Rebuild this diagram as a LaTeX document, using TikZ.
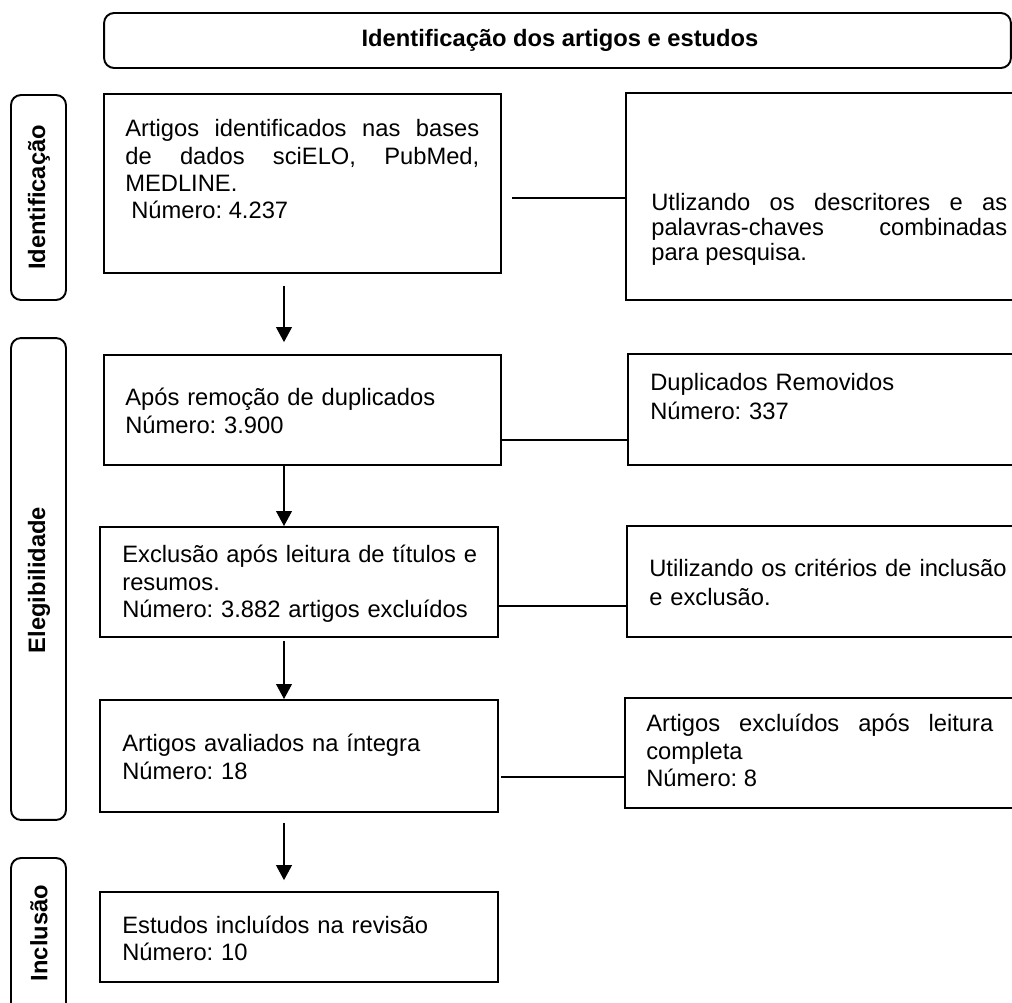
\documentclass[tikz,border=0pt]{standalone}
\usepackage{fontspec}
\setmainfont{Liberation Sans}
\usetikzlibrary{arrows.meta}
\frenchspacing

\begin{document}
\begin{tikzpicture}[x=0.02cm,y=-0.02cm,
	caixa/.style={draw,rectangle,line width=1.1pt,inner sep=0pt},
	fase/.style={draw,rectangle,rounded corners=0.2cm,line width=1.1pt,inner sep=0pt,minimum width=1.1cm},
	texto/.style={anchor=base west,inner sep=0pt,font=\fontsize{13.5}{15.5}\selectfont},
	rotulo/.style={rotate=90,inner sep=0pt,font=\bfseries\fontsize{13.5}{15}\selectfont},
	seta/.style={-{Triangle[width=9pt,length=8.5pt]},line width=0.6pt},
	linha/.style={line width=0.6pt}]
	\useasboundingbox (0,0) rectangle (1012,1003);

	% titulo e fases
	\node [fase,minimum width=18.14cm,minimum height=1.1cm] (titulo) at (557.5,40.5) {};
	\node [inner sep=0pt,font=\bfseries\fontsize{13.5}{15}\selectfont] (tituloTxt) at (560,40.5) {Identificação dos artigos e estudos};
	\node [fase,minimum height=4.1cm] (fase1) at (38.5,197.5) {};
	\node [fase,minimum height=9.64cm] (fase2) at (38.5,579) {};
	\node [fase,minimum height=3.64cm] (fase3) at (38.5,949) {};
	\node [rotulo] (rot1) at (39,197.5) {Identificação};
	\node [rotulo] (rot2) at (39,580) {Elegibilidade};
	\node [rotulo] (rot3) at (39,933) {Inclusão};

	% caixas principais
	\node [caixa,minimum width=7.94cm,minimum height=3.58cm] (ident) at (302.5,183.5) {};
	\node [caixa,minimum width=7.94cm,minimum height=2.2cm] (remocao) at (302.5,410) {};
	\node [caixa,minimum width=7.96cm,minimum height=2.2cm] (titulos) at (299,582) {};
	\node [caixa,minimum width=7.96cm,minimum height=2.24cm] (integra) at (299,756) {};
	\node [caixa,minimum width=7.96cm,minimum height=1.8cm] (incluidos) at (299,937) {};

	% caixas laterais
	\node [caixa,minimum width=8.08cm,minimum height=4.14cm] (descritores) at (828,196.5) {};
	\node [caixa,minimum width=8.04cm,minimum height=2.22cm] (duplicados) at (829,409.5) {};
	\node [caixa,minimum width=8.06cm,minimum height=2.22cm] (criterios) at (828.5,581.5) {};
	\node [caixa,minimum width=8.1cm,minimum height=2.2cm] (excluidos) at (827.5,753) {};

	% textos
	\node [texto,text width=7.08cm,align=justify] (identTxt) at (125,137) {Artigos identificados nas bases\linebreak de dados sciELO, PubMed,\linebreak MEDLINE.\\ \hspace*{0.25em}Número: 4.237};
	\node [texto,text width=7.5cm,align=left] (remocaoTxt) at (125,406) {Após remoção de duplicados\\Número: 3.900};
	\node [texto,text width=7.5cm,align=left] (titulosTxt) at (122,563) {Exclusão após leitura de títulos e\\resumos.\\Número: 3.882 artigos excluídos};
	\node [texto,text width=7.5cm,align=left] (integraTxt) at (122,752) {Artigos avaliados na íntegra\\Número: 18};
	\node [texto,text width=7.5cm,align=left] (incluidosTxt) at (122,933) {Estudos incluídos na revisão\\Número: 10};
	\node [texto,text width=7.12cm,align=justify,font=\fontsize{13.5}{14}\selectfont] (descritoresTxt) at (651,211) {Utlizando os descritores e as\linebreak palavras-chaves combinadas\linebreak para pesquisa.};
	\node [texto,text width=7.5cm,align=left,font=\fontsize{13.5}{16}\selectfont] (duplicadosTxt) at (650,391) {Duplicados Removidos\\Número: 337};
	\node [texto,text width=7.5cm,align=left,font=\fontsize{13.5}{16}\selectfont] (criteriosTxt) at (649,577) {Utilizando os critérios de inclusão\\e exclusão.};
	\node [texto,text width=6.94cm,align=justify] (excluidosTxt) at (646,732) {Artigos excluídos após leitura\linebreak completa\\Número: 8};

	% ligacoes
	\coordinate (l1) at (512,198);
	\coordinate (l2) at (501,440);
	\coordinate (l3) at (498,606);
	\coordinate (l4) at (501,777);
	\draw [linha] (l1) -- (l1 -| descritores.west);
	\draw [linha] (l2) -- (l2 -| duplicados.west);
	\draw [linha] (l3) -- (l3 -| criterios.west);
	\draw [linha] (l4) -- (l4 -| excluidos.west);

	\coordinate (s1) at (284,286);
	\coordinate (s3) at (284,641);
	\coordinate (s4) at (284,823);
	\draw [seta,shorten >=6.8pt] (s1) -- (s1 |- remocao.north);
	\draw [seta] (remocao.south -| s1) -- (titulos.north -| s1);
	\draw [seta] (s3) -- (s3 |- integra.north);
	\draw [seta,shorten >=6.2pt] (s4) -- (s4 |- incluidos.north);
\end{tikzpicture}
\end{document}
